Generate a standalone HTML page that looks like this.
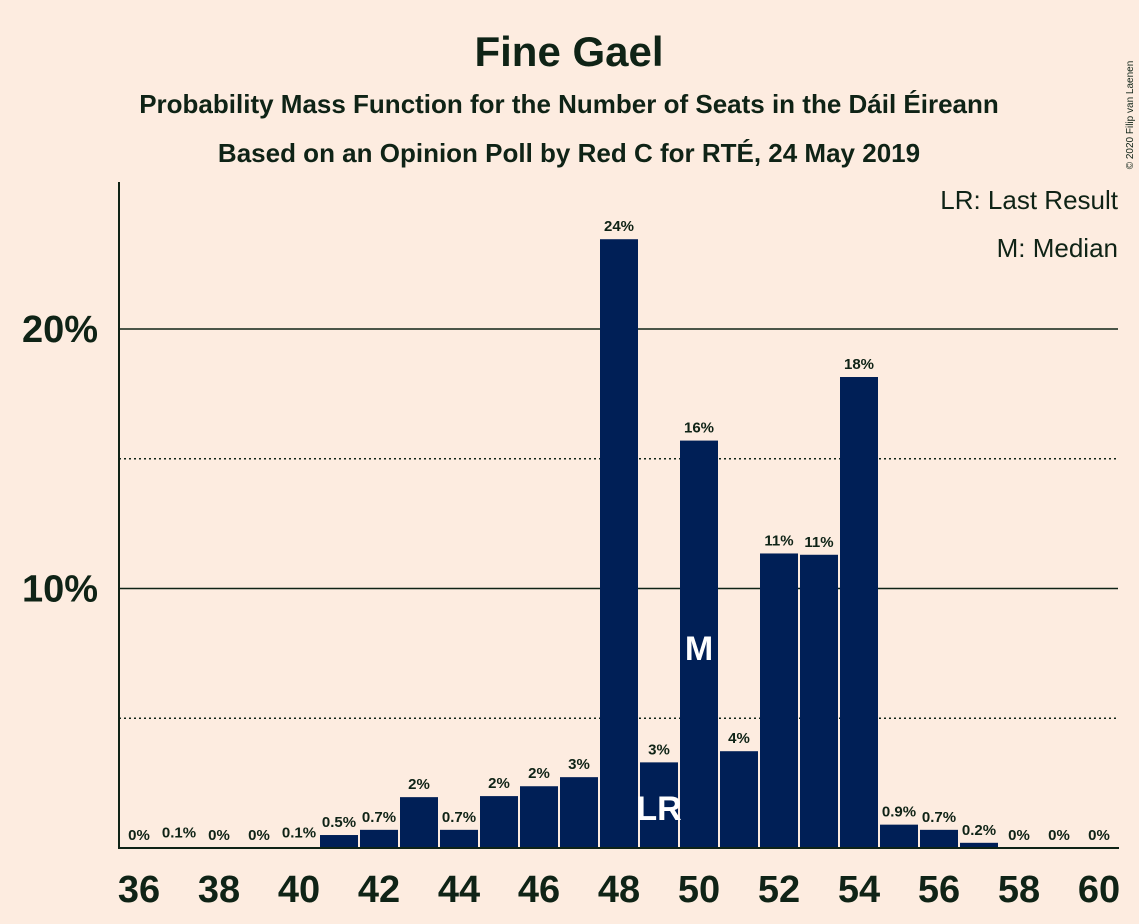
<!DOCTYPE html>
<html><head><meta charset="utf-8"><style>
html,body{margin:0;padding:0;background:#fdece0;}
svg{display:block;font-family:"Liberation Sans",sans-serif;}
</style></head><body>
<svg id="chart" width="1139" height="924" xmlns="http://www.w3.org/2000/svg">
<rect width="1139" height="924" fill="#fdece0"/>
<text x="569" y="66" text-anchor="middle" font-size="42" font-weight="bold" fill="#0f2316">Fine Gael</text>
<text x="569" y="113" text-anchor="middle" font-size="26" font-weight="bold" fill="#0f2316">Probability Mass Function for the Number of Seats in the Dáil Éireann</text>
<text x="569" y="162" text-anchor="middle" font-size="26" font-weight="bold" fill="#0f2316">Based on an Opinion Poll by Red C for RTÉ, 24 May 2019</text>
<text x="1133" y="115" font-size="10" fill="#0f2316" transform="rotate(-90 1133 115)" text-anchor="middle">© 2020 Filip van Laenen</text>
<text x="1118" y="209" text-anchor="end" font-size="26" fill="#0f2316">LR: Last Result</text>
<text x="1118" y="257" text-anchor="end" font-size="26" fill="#0f2316">M: Median</text>
<g id="grid"></g>
<g id="bars"></g>
<g id="axes"></g>
</svg>
<script>
const seats=[36,37,38,39,40,41,42,43,44,45,46,47,48,49,50,51,52,53,54,55,56,57,58,59,60];
const probs=[0,0.1,0,0,0.1,0.5,0.7,1.96,0.7,2.0,2.38,2.73,23.46,3.3,15.7,3.73,11.35,11.3,18.15,0.9,0.7,0.2,0,0,0];
const labels=["0%","0.1%","0%","0%","0.1%","0.5%","0.7%","2%","0.7%","2%","2%","3%","24%","3%","16%","4%","11%","11%","18%","0.9%","0.7%","0.2%","0%","0%","0%"];
const xTicks=[36,38,40,42,44,46,48,50,52,54,56,58,60];
const yTicks=[10,20];
const yDotted=[5,15];
const lastResult=49, median=50;
const NS="http://www.w3.org/2000/svg";
const x=s=>139+(s-36)*40;
const y=p=>848-p*25.95;
function mk(t,a,parent){const e=document.createElementNS(NS,t);for(const k in a)e.setAttribute(k,a[k]);document.getElementById(parent).appendChild(e);return e;}
yDotted.forEach(v=>{const l=mk('line',{x1:119,x2:1118,y1:y(v),y2:y(v),stroke:'#0f2316','stroke-width':1.5,'stroke-dasharray':'2,3'},'grid');

});
yTicks.forEach(v=>{const l=mk('line',{x1:119,x2:1118,y1:y(v),y2:y(v),stroke:'#0f2316','stroke-width':1.5},'grid');


const t=mk('text',{x:98,y:y(v)+13,'text-anchor':'end','font-size':38,'font-weight':'bold',fill:'#0f2316'},'axes');t.textContent=v+'%';

});
seats.forEach((s,i)=>{const p=probs[i];
if(p>0.15){const r=mk('rect',{x:x(s)-19,y:y(p),width:38,height:848-y(p),fill:'#001f56'},'bars');

}
const t=mk('text',{x:x(s),y:y(p)-8,'text-anchor':'middle','font-size':15,'font-weight':'600',fill:'#0f2316'},'bars');t.textContent=labels[i];

});
const m=mk('text',{x:x(median),y:660,'text-anchor':'middle','font-size':34,'font-weight':'bold',fill:'#ffffff'},'bars');m.textContent='M';


const lr=mk('text',{x:x(lastResult),y:820,'text-anchor':'middle','font-size':34,'font-weight':'bold',fill:'#ffffff'},'bars');lr.textContent='LR';


const ya=mk('line',{x1:119,x2:119,y1:182,y2:849,stroke:'#0f2316','stroke-width':2},'axes');


const xa=mk('line',{x1:118,x2:1119,y1:848,y2:848,stroke:'#0f2316','stroke-width':2},'axes');


xTicks.forEach(s=>{const t=mk('text',{x:x(s),y:902,'text-anchor':'middle','font-size':38,'font-weight':'bold',fill:'#0f2316'},'axes');t.textContent=s;

});
</script>
</body></html>
